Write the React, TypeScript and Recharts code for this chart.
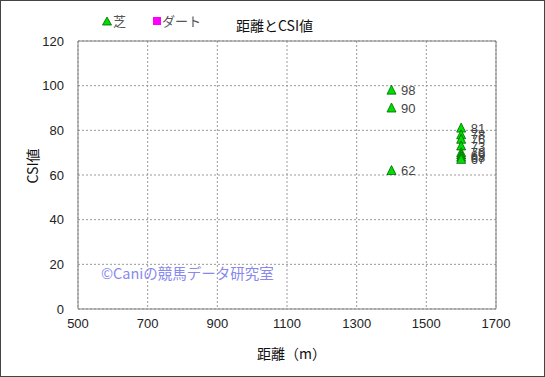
import { ScatterChart, Scatter, XAxis, YAxis, CartesianGrid, ReferenceLine, LabelList } from 'recharts';

// 芝 (turf) runs: distance and CSI
const shibaDistance = [1400, 1400, 1400, 1600, 1600, 1600, 1600, 1600, 1600, 1600, 1600];
const shibaCsi = [98, 90, 62, 81, 78, 76, 73, 70, 69, 68, 67];

// ダート (dirt) runs: none in this chart
const dirtDistance: number[] = [];
const dirtCsi: number[] = [];

const xTicks = [500, 700, 900, 1100, 1300, 1500, 1700];
const yTicks = [0, 20, 40, 60, 80, 100, 120];

const shibaData = shibaDistance.map((d, i) => ({ x: d, y: shibaCsi[i] }));
const dirtData = dirtDistance.map((d, i) => ({ x: d, y: dirtCsi[i] }));

const numFont = '"Liberation Sans", Arial, sans-serif';
const jpFont = '"Noto Sans CJK JP", "Liberation Sans", sans-serif';

const Triangle = (props: any) => {
  const { cx, cy } = props;
  if (cx == null || cy == null) return null;
  return (
    <polygon
      points={`${cx},${cy - 5} ${cx + 4.5},${cy + 4} ${cx - 4.5},${cy + 4}`}
      fill="#00dd00"
      stroke="#006600"
      strokeWidth={0.8}
    />
  );
};

const Square = (props: any) => {
  const { cx, cy } = props;
  if (cx == null || cy == null) return null;
  return <rect x={cx - 4} y={cy - 4} width={8} height={8} fill="#ff00ff" />;
};

export default function App() {
  return (
    <div
      style={{
        position: 'absolute',
        left: 0,
        top: 0,
        width: 545,
        height: 377,
        border: '1px solid #444',
        boxSizing: 'border-box',
        background: '#fff',
        overflow: 'hidden',
      }}
    >
      <ScatterChart
        width={543}
        height={375}
        margin={{ top: 40, right: 48, bottom: 37, left: 37 }}
        style={{ position: 'absolute', left: 0, top: 0 }}
      >
        <CartesianGrid stroke="#999" strokeDasharray="2 2" />
        <XAxis
          type="number"
          dataKey="x"
          domain={[500, 1700]}
          ticks={xTicks}
          interval={0}
          height={30}
          tickLine={false}
          tickMargin={4}
          axisLine={{ stroke: '#808080' }}
          tick={{ fontSize: 13, fill: '#222', fontFamily: numFont }}
        />
        <YAxis
          type="number"
          dataKey="y"
          domain={[0, 120]}
          ticks={yTicks}
          interval={0}
          width={40}
          tickLine={false}
          tickMargin={8}
          axisLine={{ stroke: '#808080' }}
          tick={{ fontSize: 13, fill: '#222', fontFamily: numFont }}
        />
        <ReferenceLine y={120} stroke="#808080" />
        <ReferenceLine x={1700} stroke="#808080" />
        <Scatter name="芝" data={shibaData} shape={<Triangle />} isAnimationActive={false}>
          <LabelList
            dataKey="y"
            position="right"
            offset={5}
            style={{ fontSize: 13, fill: '#444', fontFamily: numFont }}
          />
        </Scatter>
        <Scatter name="ダート" data={dirtData} shape={<Square />} isAnimationActive={false} />
      </ScatterChart>

      {/* legend */}
      <div style={{ position: 'absolute', left: 101, top: 10, fontFamily: jpFont, fontSize: 13, color: '#555', display: 'flex', alignItems: 'center' }}>
        <svg width={10} height={10} style={{ marginRight: 1 }}>
          <polygon points="5,1 9.5,9 0.5,9" fill="#00dd00" stroke="#006600" strokeWidth={0.8} />
        </svg>
        <span>芝</span>
      </div>
      <div style={{ position: 'absolute', left: 152, top: 10, fontFamily: jpFont, fontSize: 13, color: '#555', display: 'flex', alignItems: 'center' }}>
        <svg width={8} height={8} style={{ marginRight: 1 }}>
          <rect x={0} y={0} width={8} height={8} fill="#ff00ff" />
        </svg>
        <span>ダート</span>
      </div>

      {/* title */}
      <div style={{ position: 'absolute', left: 235, top: 14, fontFamily: jpFont, fontSize: 14, color: '#111' }}>
        距離とCSI値
      </div>

      {/* axis titles */}
      <div style={{ position: 'absolute', left: 256, top: 342, fontFamily: jpFont, fontSize: 14, color: '#111' }}>
        距離（m）
      </div>
      <div
        style={{
          position: 'absolute',
          left: 6,
          top: 155,
          width: 50,
          textAlign: 'center',
          transform: 'rotate(-90deg)',
          fontFamily: jpFont,
          fontSize: 14,
          color: '#111',
        }}
      >
        CSI値
      </div>

      {/* watermark */}
      <div style={{ position: 'absolute', left: 100, top: 261, fontFamily: jpFont, fontSize: 14.5, color: '#8888ee' }}>
        ©Caniの競馬データ研究室
      </div>
    </div>
  );
}
